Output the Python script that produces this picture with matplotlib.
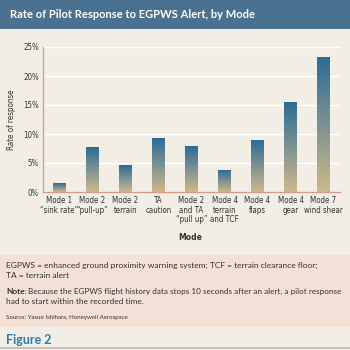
import matplotlib
matplotlib.use("Agg")
import matplotlib.pyplot as plt
import numpy as np
from matplotlib import font_manager as fm
from matplotlib.colors import LinearSegmentedColormap
from matplotlib.patches import Rectangle

# ข้อมูล
categories = ["Mode 1\n\u201csink rate\u201d", "Mode 2\n\u201cpull-up\u201d", "Mode 2\nterrain",
              "TA\ncaution", "Mode 2\nand TA\n\u201cpull up\u201d", "Mode 4\nterrain\nand TCF",
              "Mode 4\nflaps", "Mode 4\ngear", "Mode 7\nwind shear"]
rates = [1.5, 7.6, 4.5, 9.3, 7.8, 3.7, 8.8, 15.4, 23.2]
yticks = [0, 5, 10, 15, 20, 25]


# ฟอนต์แคบ (ถ้ามี)
def find_font(keys, bold=False):
    for f in fm.fontManager.ttflist:
        fn = f.fname.replace("\\", "/").split("/")[-1]
        if any(k in fn for k in keys) and ("Italic" not in fn) and ("Oblique" not in fn):
            if bold == ("Bold" in fn) and ("Semi" not in fn) and ("Extra" not in fn) and ("Light" not in fn):
                return f.fname
    return None


reg = (find_font(["LiberationSansNarrow-Regular"]) or find_font(["DejaVuSansCondensed."])
       or find_font(["NotoSans-Condensed.", "NotoSans-CondensedRegular"]))
bld = (find_font(["LiberationSansNarrow-Bold"], True) or find_font(["DejaVuSansCondensed-Bold"], True)
       or find_font(["NotoSans-CondensedBold"], True))
NARROW = fm.FontProperties(fname=reg) if reg else fm.FontProperties(family="Roboto")
NARROW_B = fm.FontProperties(fname=bld) if bld else fm.FontProperties(family="Roboto", weight="bold")
names = {f.name for f in fm.fontManager.ttflist}
BODY = "Lato" if "Lato" in names else "DejaVu Sans"

BG = "#f2eee5"
BAR_BLUE = "#2c6c96"
BAR_TAN = "#cdb88c"
SPINE = "#d49a8c"
TXT = "#333333"

W = H = 350.0


def fx(x):
    return x / W


def fy(y):
    return 1 - y / H


fig = plt.figure(figsize=(3.5, 3.5), dpi=100, facecolor=BG)

# แถบหัวเรื่อง + กล่องหมายเหตุ
fig.patches.append(Rectangle((0, fy(29)), 1, 29 / H, transform=fig.transFigure,
                             facecolor="#4b7191", edgecolor="none", zorder=0))
fig.patches.append(Rectangle((0, fy(327)), 1, (327 - 255) / H, transform=fig.transFigure,
                             facecolor="#f3e1d8", edgecolor="none", zorder=0))
fig.text(fx(10), fy(15), "Rate of Pilot Response to EGPWS Alert, by Mode",
         color="white", fontsize=8.0, fontweight="bold", family=BODY, va="center")

ax = fig.add_axes([fx(43), fy(192), 297 / W, 145 / H])
ax.set_facecolor(BG)

cmap = LinearSegmentedColormap.from_list("bar", [BAR_TAN, BAR_BLUE])
grad = np.linspace(0, 1, 256).reshape(-1, 1)
bw = 0.37
for i, v in enumerate(rates):
    ax.imshow(grad, cmap=cmap, origin="lower", aspect="auto",
              extent=[i - bw / 2, i + bw / 2, 0, v], zorder=3)
ax.set_xlim(-0.5, len(rates) - 0.5)
ax.set_ylim(0, 25)

for t in yticks[1:]:
    ax.axhline(t, color="white", lw=1.0, zorder=1)

for s in ["top", "right"]:
    ax.spines[s].set_visible(False)
for s in ["left", "bottom"]:
    ax.spines[s].set_color(SPINE)
    ax.spines[s].set_linewidth(0.9)
    ax.spines[s].set_zorder(5)

ax.set_yticks(yticks)
ax.set_yticklabels([f"{t}%" for t in yticks])
ax.set_xticks(range(len(categories)))
ax.set_xticklabels(categories, linespacing=1.05)
ax.tick_params(length=0, pad=3, colors=TXT)
for lab in ax.get_yticklabels() + ax.get_xticklabels():
    lab.set_fontproperties(NARROW)
    lab.set_fontsize(5.7)
ax.set_ylabel("Rate of response", fontproperties=NARROW, fontsize=5.8, color=TXT, labelpad=5)
fig.text(fx(190), fy(237), "Mode", fontproperties=NARROW_B, fontsize=6.2, color=TXT,
         ha="center", va="center")

# หมายเหตุใต้กราฟ
FS = 6.0
fig.text(fx(6), fy(265), "EGPWS = enhanced ground proximity warning system; TCF = terrain clearance floor;",
         family=BODY, fontsize=FS, color=TXT, va="center")
fig.text(fx(6), fy(276), "TA = terrain alert", family=BODY, fontsize=FS, color=TXT, va="center")
note = fig.text(fx(6), fy(291), "Note:", family=BODY, fontsize=FS, fontweight="bold",
                color=TXT, va="center")
fig.canvas.draw()
nw = note.get_window_extent().width
fig.text(fx(6 + nw + 1), fy(291),
         "Because the EGPWS flight history data stops 10 seconds after an alert, a pilot response",
         family=BODY, fontsize=5.85, color=TXT, va="center")
fig.text(fx(6), fy(302), "had to start within the recorded time.", family=BODY, fontsize=FS,
         color=TXT, va="center")
fig.text(fx(6), fy(317), "Source: Yasuo Ishihara, Honeywell Aerospace", family=BODY, fontsize=4.4,
         color=TXT, va="center")

fig.text(fx(6), fy(340), "Figure 2", family=BODY, fontsize=9, fontweight="bold",
         color="#2d7bab", va="center")
fig.add_artist(plt.Line2D([0, 1], [fy(348), fy(348)], transform=fig.transFigure,
                          color="#b8b8b8", lw=1.2))

fig.savefig("out.png", dpi=100, facecolor=BG)
